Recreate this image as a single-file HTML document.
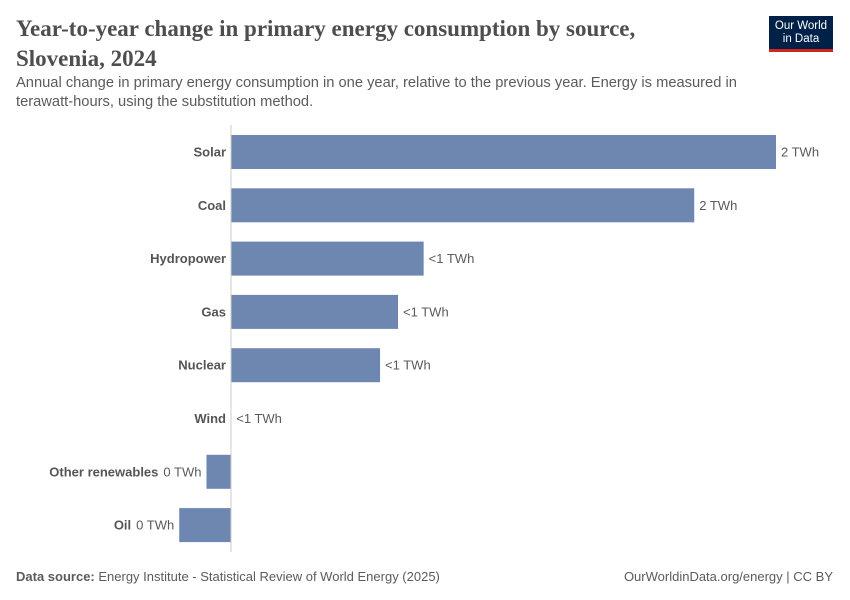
<!DOCTYPE html>
<html><head><meta charset="utf-8"><style>
body{margin:0;width:850px;height:600px;background:#fff;font-family:"Liberation Sans",sans-serif;position:relative;overflow:hidden}
.t{position:absolute;white-space:nowrap}
</style></head><body>
<div class="t" style="left:16px;top:14px;font-family:'Liberation Serif',serif;font-size:23px;font-weight:bold;color:#4e4e4e;line-height:30px">Year-to-year change in primary energy consumption by source,<br>Slovenia, 2024</div>
<div class="t" style="left:16px;top:74px;font-size:14.7px;color:#5b5b5b;line-height:19px">Annual change in primary energy consumption in one year, relative to the previous year. Energy is measured in<br>terawatt-hours, using the substitution method.</div>
<div style="position:absolute;left:769px;top:16px;width:64px;height:36px;background:#002147;border-bottom:3px solid #ce261e;box-sizing:border-box;color:#fff;font-size:11.5px;line-height:13px;text-align:center;padding-top:4px">Our World<br>in Data</div>
<svg id="chart" width="850" height="600" style="position:absolute;left:0;top:0"></svg>
<div class="t" style="left:16px;top:569px;font-size:13px;color:#5b5b5b"><b>Data source:</b> Energy Institute - Statistical Review of World Energy (2025)</div>
<div class="t" style="right:17px;top:569px;font-size:13px;color:#5b5b5b">OurWorldinData.org/energy | CC BY</div>
<script>
const categories=["Solar","Coal","Hydropower","Gas","Nuclear","Wind","Other renewables","Oil"];
const values=[2.0,1.70,0.707,0.613,0.547,0.001,-0.09,-0.19];
const valueLabels=["2 TWh","2 TWh","<1 TWh","<1 TWh","<1 TWh","<1 TWh","0 TWh","0 TWh"];
const svg=document.getElementById('chart');
const NS='http://www.w3.org/2000/svg';
const x0=231,pxPer=272.5,top0=135,step=53.3,bh=34;
const x=v=>x0+v*pxPer;
function mk(tag,a){const e=document.createElementNS(NS,tag);for(const k in a)e.setAttribute(k,a[k]);svg.appendChild(e);return e;}
categories.forEach((c,i)=>{
  const v=values[i],y=top0+i*step;
  const r=mk('rect',{x:Math.min(x(0),x(v)),y:y,width:Math.abs(x(v)-x(0)),height:bh,fill:'#6d87b0'});
  
  
  const cy=y+bh/2+4.5;
  let labX;
  if(v>=0){
    const vl=mk('text',{x:x(v)+5,y:cy,'font-size':13,fill:'#5b5b5b'});vl.textContent=valueLabels[i];
    
    
    labX=x0-5;
  }else{
    const vl=mk('text',{x:x(v)-5,y:cy,'font-size':13,fill:'#5b5b5b','text-anchor':'end'});vl.textContent=valueLabels[i];
    
    
    labX=x(v)-5-vl.getComputedTextLength()-5;
  }
  const cl=mk('text',{x:labX,y:cy,'font-size':13,'font-weight':'bold',fill:'#555','text-anchor':'end'});cl.textContent=c;
  
  
});
const ax=mk('line',{x1:x0,x2:x0,y1:125,y2:552,stroke:'#ccc','stroke-width':1});


</script>
</body></html>
